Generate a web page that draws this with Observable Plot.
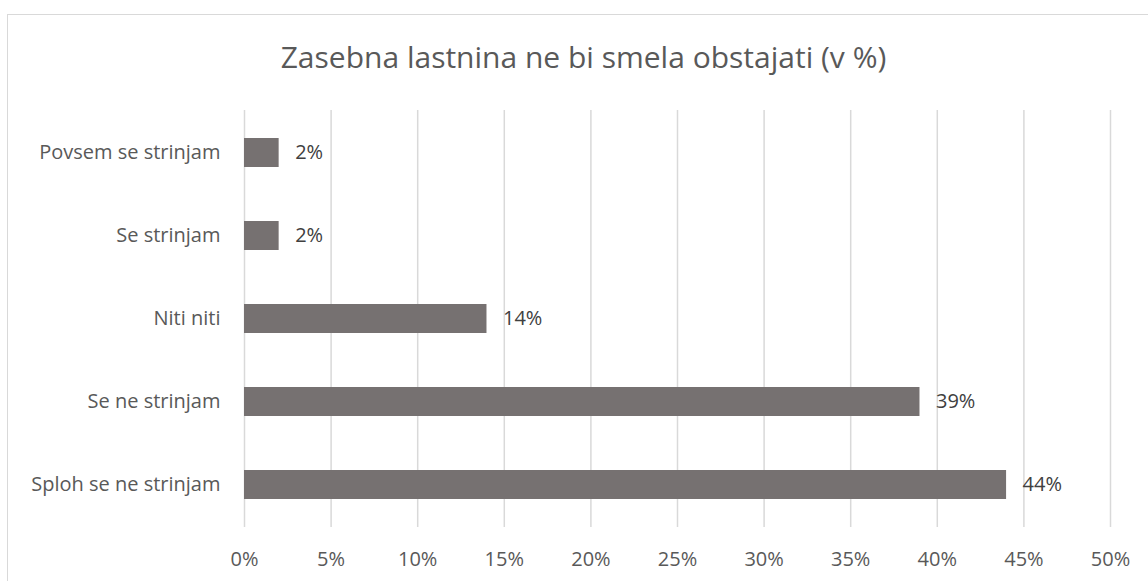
<!DOCTYPE html>
<html>
<head>
<meta charset="utf-8">
<script src="https://cdn.jsdelivr.net/npm/d3@7"></script>
<script src="https://cdn.jsdelivr.net/npm/@observablehq/plot@0.6"></script>
<style>
  html, body { margin: 0; padding: 0; background: #fff; overflow: hidden; }
  #wrap { position: relative; width: 1148px; height: 581px; }
  #frame { position: absolute; left: 7px; top: 14px; width: 1160px; height: 600px; border: 1.5px solid #d9d9d9; box-sizing: border-box; }
  #title { position: absolute; left: 7px; width: 1153px; top: 42px; text-align: center; font-family: "Open Sans", sans-serif; font-size: 30px; color: #595959; line-height: 1; }
  #chart { position: absolute; left: 0; top: 0; }
</style>
</head>
<body>
<div id="wrap">
  <div id="frame"></div>
  <div id="title">Zasebna lastnina ne bi smela obstajati (v %)</div>
  <div id="chart"></div>
</div>
<script>
const categories = ["Povsem se strinjam", "Se strinjam", "Niti niti", "Se ne strinjam", "Sploh se ne strinjam"];
const values = [2, 2, 14, 39, 44];
const xTicks = [0, 5, 10, 15, 20, 25, 30, 35, 40, 45, 50];

const data = categories.map((c, i) => ({category: c, value: values[i]}));

const chart = Plot.plot({
  width: 1148,
  height: 581,
  marginLeft: 244,
  marginRight: 38,
  marginTop: 110,
  marginBottom: 54,
  style: {fontFamily: "Open Sans, sans-serif", fontSize: "20px", color: "#595959", background: "transparent"},
  x: {domain: [0, 50], ticks: xTicks, tickFormat: d => d + "%", label: null},
  y: {domain: categories, paddingInner: 0.65, paddingOuter: 0.325, label: null},
  marks: [
    Plot.gridX(xTicks, {stroke: "#d9d9d9", strokeOpacity: 1, strokeWidth: 1.5}),
    Plot.barX(data, {x: "value", y: "category", fill: "#767171"}),
    Plot.text(data, {x: "value", y: "category", text: d => d.value + "%", textAnchor: "start", dx: 16, fill: "#404040", fontSize: 20}),
    Plot.axisX({ticks: xTicks, tickFormat: d => d + "%", tickSize: 0, tickPadding: 24, fontSize: 20, color: "#595959", label: null}),
    Plot.axisY({tickSize: 0, tickPadding: 24, fontSize: 20, color: "#595959", label: null})
  ]
});
document.getElementById("chart").appendChild(chart);
</script>
</body>
</html>
